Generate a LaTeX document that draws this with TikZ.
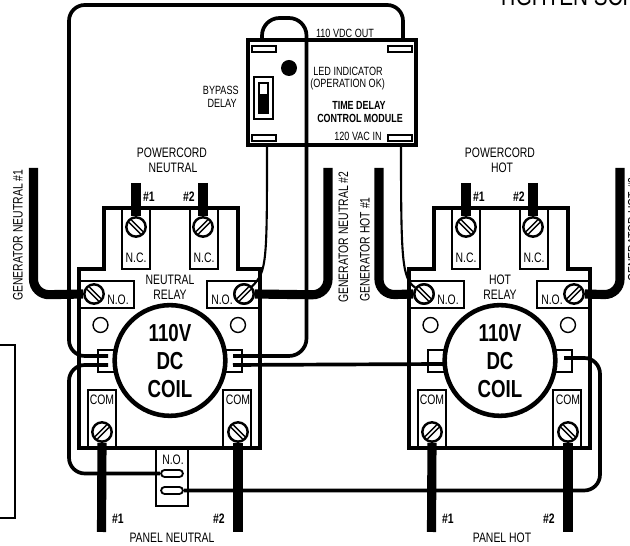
\documentclass[tikz,border=0pt]{standalone}
\usepackage{fontspec}
\setmainfont[FakeStretch=0.76]{Liberation Sans}
\usetikzlibrary{positioning}
\newcommand{\labelfont}{\fontsize{7.8}{9}\selectfont}
\newcommand{\modfont}{\fontsize{6.8}{8}\selectfont}
\newcommand{\boldfont}{\fontsize{6.7}{8}\selectfont\bfseries}
\newcommand{\numfont}{\fontsize{7.8}{9}\selectfont\bfseries}
\newcommand{\coilfont}{\fontsize{14}{16}\selectfont\bfseries}
\tikzset{
  wire/.style={line width=2.1pt},
  thinwire/.style={line width=1.2pt},
  thickwire/.style={line width=5.2pt},
  outline/.style={line width=2.4pt},
  termbox/.style={line width=1.05pt},
  lbl/.style={inner sep=0pt,font=\labelfont},
  modlbl/.style={inner sep=0pt,font=\modfont},
  screw/.style={circle,draw,fill=white,line width=1.4pt,minimum size=11pt,inner sep=0pt},
  hole/.style={circle,draw,line width=0.8pt,minimum size=8.5pt,inner sep=0pt},
  slot/.style={line width=0.8pt}
}
% two slits across a screw head, at the angle given
\newcommand{\slit}[2]{
  \draw[slot,shift={(#1)},rotate=#2] (-8,-1.7) -- (8,-1.7) (-8,1.7) -- (8,1.7);
}
\begin{document}
\begin{tikzpicture}[x=0.02cm,y=-0.02cm]
  \useasboundingbox (0,0) rectangle (630,546);

  % frame cut by the left edge, text cut by the top edge
  \draw[termbox] (-5,345) -- (15,345) -- (15,518) -- (-5,518);
  \node[anchor=base west,inner sep=0pt,font=\fontsize{15.5}{17}\selectfont] (tighten) at (497,6) {TIGHTEN SCREWS};

  % relays
  \foreach \rl/\dx in {n/0,h/330}{
    \begin{scope}[shift={(\dx,0)}]
      \draw[outline,line join=miter] (79,448) -- (79,269) -- (104,269) -- (104,208) -- (238,208)
        -- (238,269) -- (260,269) -- (260,448) -- cycle;
      \draw[termbox] (122,208) rectangle (150,269);
      \draw[termbox] (190,208) rectangle (218,269);
      \draw[termbox] (80,281) rectangle (134,308);
      \draw[termbox] (207,281) rectangle (260,308);
      \draw[termbox] (88,448) -- (88,390) -- (116,390) -- (116,448);
      \draw[termbox] (223,448) -- (223,390) -- (251,390) -- (251,448);
      \draw[termbox] (98,350) rectangle (120,372);
      \draw[termbox] (220,350) rectangle (242,372);
      \node[hole] (\rl hole1) at (100.5,325) {};
      \node[hole] (\rl hole2) at (238,325) {};
      \node[circle,draw,fill=white,line width=2.6pt,minimum size=63pt,inner sep=0pt] (\rl coil) at (170,360.5) {};
      \node[font=\coilfont,inner sep=0pt] (\rl v) at (170,333) {110V};
      \node[font=\coilfont,inner sep=0pt] (\rl dc) at (170,361) {DC};
      \node[font=\coilfont,inner sep=0pt] (\rl c) at (170,389) {COIL};
      \node[lbl] at (136,258) {N.C.};
      \node[lbl] at (204,258) {N.C.};
      \node[lbl] at (118,300) {N.O.};
      \node[lbl] at (222,300) {N.O.};
      \node[lbl] at (102,400) {COM};
      \node[lbl] at (238,400) {COM};
      \node[lbl,font=\numfont] at (149,197) {\#1};
      \node[lbl,font=\numfont] at (189,197) {\#2};
      \node[lbl,font=\numfont] at (118,519) {\#1};
      \node[lbl,font=\numfont] at (219,519) {\#2};
      % thick cords
      \coordinate (\rl top1) at (136,183);
      \coordinate (\rl top2) at (203,183);
      \coordinate (\rl low1) at (101.5,532);
      \coordinate (\rl low2) at (238,532);
      \node[screw] (\rl nc1) at (136,227) {};
      \node[screw] (\rl nc2) at (203,227) {};
      \node[screw] (\rl no1) at (94,294) {};
      \node[screw] (\rl no2) at (244,294) {};
      \node[screw] (\rl com1) at (102,432) {};
      \node[screw] (\rl com2) at (238,432) {};
      \draw[thickwire] (\rl top1) -- (\rl nc1.north);
      \draw[thickwire] (\rl top2) -- (\rl nc2.north);
      \draw[thickwire] (\rl low1) -- (\rl com1.south);
      \draw[thickwire] (\rl low2) -- (\rl com2.south);
      \slit{\rl nc1}{-45}
      \slit{\rl nc2}{45}
      \slit{\rl no1}{-45}
      \slit{\rl no2}{45}
      \slit{\rl com1}{45}
      \slit{\rl com2}{-45}
    \end{scope}
  }

  % module
  \draw[outline] (248,40) rectangle (416,145);
  \foreach \tx/\ty in {252/46,388/46,252/135,388/135}
    \draw[termbox] (\tx,\ty) rectangle ++(24,6);
  \fill (289,68) circle (8);
  \draw[termbox] (254,77) rectangle (273,119);
  \fill (258,82) rectangle (269,114);
  \fill[white] (260,84) rectangle (267,94);

  % generator cords
  \coordinate (gn1) at (33.5,168);
  \coordinate (gn2) at (328,168);
  \coordinate (gh1) at (379,168);
  \coordinate (gh2) at (620,168);
  \draw[thickwire,rounded corners=9pt] (gn1) -- (33.5,295) -- (nno1.west);
  \draw[thickwire,rounded corners=9pt] (gn2) -- (328,295) -- (nno2.east);
  \draw[thickwire,rounded corners=9pt] (gh1) -- (379,295) -- (hno1.west);
  \draw[thickwire,rounded corners=9pt] (gh2) -- (620,295) -- (hno2.east);

  % n.o. contact under the neutral relay
  \draw[termbox] (156,448) -- (156,506) -- (188,506) -- (188,448);
  \node[lbl] at (173,460) {N.O.};
  \node[draw,termbox,fill=white,rounded corners=2pt,minimum width=12.4pt,minimum height=4pt,inner sep=0pt] (aux1) at (172,473.5) {};
  \node[draw,termbox,fill=white,rounded corners=2pt,minimum width=12.4pt,minimum height=4pt,inner sep=0pt] (aux2) at (172,490.5) {};

  % control wiring
  \coordinate (out1) at (262,40);
  \coordinate (out2) at (403,40);
  \coordinate (in1) at (267,145);
  \coordinate (in2) at (401,145);
  \coordinate (ntabu) at (108,356);
  \coordinate (ntabl) at (108,365);
  \coordinate (ptabu) at (233,356);
  \coordinate (ptabl) at (233,365);
  \coordinate (htab1) at (443,364);
  \coordinate (htab2) at (564,358);
  \draw[wire,rounded corners=9pt] (ntabu) -- (69,356) -- (69,5) -- (403,5) -- (out2);
  \draw[wire,rounded corners=10pt] (out1) -- (262,18) -- (306.5,18) -- (306.5,356) -- (ptabu);
  \draw[thinwire] (in1) .. controls (267,262) and (267,272) .. (nno2);
  \draw[thinwire] (in2) .. controls (401,262) and (402,278) .. (hno1);
  \draw[wire,rounded corners=9pt] (ntabl) -- (69,365) -- (69,473.5) -- (aux1.west);
  \draw[wire] (ptabl) -- (htab1);
  \draw[wire,rounded corners=9pt] (aux2.east) -- (600,490.5) -- (600,358) -- (htab2);
  \node[screw] (nno2b) at (nno2) {};
  \slit{nno2b}{45}
  \node[screw] (hno1b) at (hno1) {};
  \slit{hno1b}{-45}

  % labels
  \node[lbl] at (172,153) {POWERCORD};
  \node[lbl] at (173,168) {NEUTRAL};
  \node[lbl] at (500,153) {POWERCORD};
  \node[lbl] at (502,168) {HOT};
  \node[lbl] at (170,280) {NEUTRAL};
  \node[lbl] at (170,295) {RELAY};
  \node[lbl] at (500,280) {HOT};
  \node[lbl] at (500,295) {RELAY};
  \node[lbl] at (172,538) {PANEL NEUTRAL};
  \node[lbl] at (502,538) {PANEL HOT};
  \node[modlbl,anchor=east] at (239,90) {BYPASS};
  \node[modlbl,anchor=east] at (237,103) {DELAY};
  \node[modlbl] at (345,33) {110 VDC OUT};
  \node[modlbl,anchor=west] at (313,71) {LED INDICATOR};
  \node[modlbl,anchor=west] at (310,84) {(OPERATION OK)};
  \node[lbl,font=\boldfont] at (359,105) {TIME DELAY};
  \node[lbl,font=\boldfont] at (360,118) {CONTROL MODULE};
  \node[modlbl] at (358,136) {120 VAC IN};
  \node[lbl,rotate=90,anchor=west] at (18,301) {GENERATOR NEUTRAL \#1};
  \node[lbl,rotate=90,anchor=west] at (343.5,303) {GENERATOR NEUTRAL \#2};
  \node[lbl,rotate=90,anchor=west] at (365,302) {GENERATOR HOT \#1};
  \node[lbl,rotate=90,anchor=west] at (633,282) {GENERATOR HOT \#2};
\end{tikzpicture}
\end{document}
